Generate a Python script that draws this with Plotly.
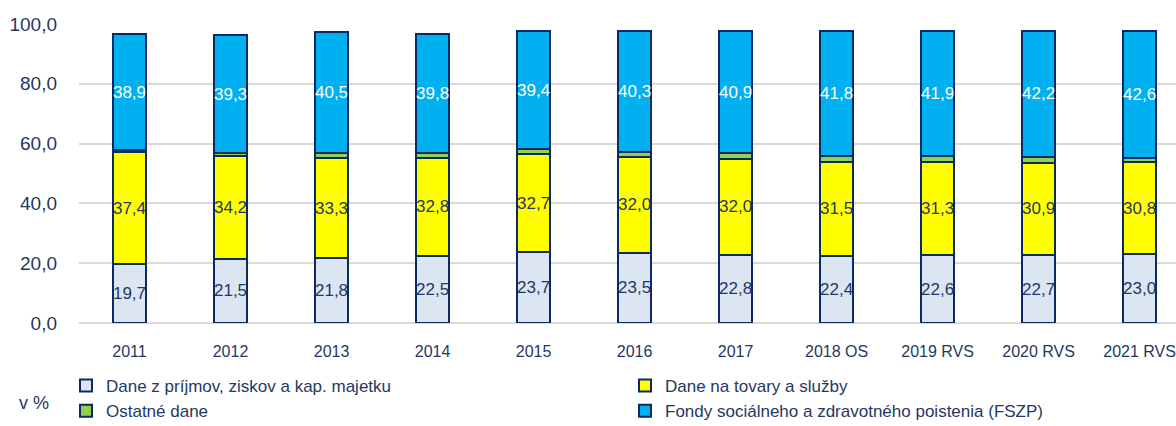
import plotly.graph_objects as go

categories = ["2011", "2012", "2013", "2014", "2015", "2016", "2017",
              "2018 OS", "2019 RVS", "2020 RVS", "2021 RVS"]
dane_prijmy = [19.7, 21.5, 21.8, 22.5, 23.7, 23.5, 22.8, 22.4, 22.6, 22.7, 23.0]
dane_tovary = [37.4, 34.2, 33.3, 32.8, 32.7, 32.0, 32.0, 31.5, 31.3, 30.9, 30.8]
ostatne = [0.6, 1.2, 1.6, 1.5, 1.8, 1.8, 2.0, 2.0, 1.9, 2.0, 1.4]
fszp = [38.9, 39.3, 40.5, 39.8, 39.4, 40.3, 40.9, 41.8, 41.9, 42.2, 42.6]
y_ticks = [0, 20, 40, 60, 80, 100]
y_tick_labels = ["0,0", "20,0", "40,0", "60,0", "80,0", "100,0"]

FONT = "Liberation Sans Narrow, Arial Narrow, Liberation Sans, Arial, sans-serif"
NAVY = "#1f3864"
BORDER = "#0b2a63"


def fmt(v):
    return f"{v:.1f}".replace(".", ",")


series = [
    ("Dane z príjmov, ziskov a kap. majetku", dane_prijmy, "#dce6f2", NAVY, True),
    ("Dane na tovary a služby", dane_tovary, "#ffff00", NAVY, True),
    ("Ostatné dane", ostatne, "#92d050", NAVY, False),
    ("Fondy sociálneho a zdravotného poistenia (FSZP)", fszp, "#00b0f0", "#ffffff", True),
]

fig = go.Figure()
for name, vals, color, tcolor, show in series:
    fig.add_trace(go.Bar(
        name=name,
        x=categories,
        y=vals,
        marker=dict(color=color, line=dict(color=BORDER, width=2)),
        text=[fmt(v) for v in vals] if show else None,
        textposition="inside" if show else "none",
        insidetextanchor="middle",
        constraintext="none",
        textangle=0,
        textfont=dict(family=FONT, size=17, color=tcolor),
        hoverinfo="x+y+name",
    ))

fig.add_annotation(
    text="v %", xref="paper", yref="paper",
    x=(17 - 79) / 1097, y=(323 - 403) / 299,
    xanchor="left", yanchor="middle", showarrow=False,
    font=dict(family=FONT, size=18, color=NAVY),
)

fig.update_layout(
    width=1176, height=426,
    barmode="stack",
    bargap=0.67,
    plot_bgcolor="white",
    paper_bgcolor="white",
    margin=dict(l=79, r=0, t=24, b=103, autoexpand=False),
    font=dict(family=FONT, color=NAVY),
    showlegend=True,
    legend=dict(
        orientation="h",
        x=(66 - 79) / 1097, y=(323 - 368) / 299,
        xanchor="left", yanchor="top",
        traceorder="normal",
        entrywidth=514,
        font=dict(family=FONT, size=17, color=NAVY),
        itemclick=False,
        tracegroupgap=0,
        bgcolor="rgba(0,0,0,0)",
    ),
    xaxis=dict(
        range=[-0.5, 10.36],
        showgrid=False,
        showline=False,
        ticks="",
        tickfont=dict(family=FONT, size=16, color=NAVY),
        ticklabelstandoff=17,
    ),
    yaxis=dict(
        range=[0, 100],
        tickvals=y_ticks,
        ticktext=y_tick_labels,
        showgrid=True,
        gridcolor="#d9d9d9",
        gridwidth=1.5,
        zeroline=True,
        zerolinecolor="#d9d9d9",
        zerolinewidth=2,
        showline=False,
        ticks="",
        tickfont=dict(family=FONT, size=19, color=NAVY),
        ticklabelstandoff=21,
    ),
)

fig.write_html(
    "out.html",
    config={"displayModeBar": False},
    post_script="document.body.style.margin='0px';document.body.style.overflow='hidden';",
)
